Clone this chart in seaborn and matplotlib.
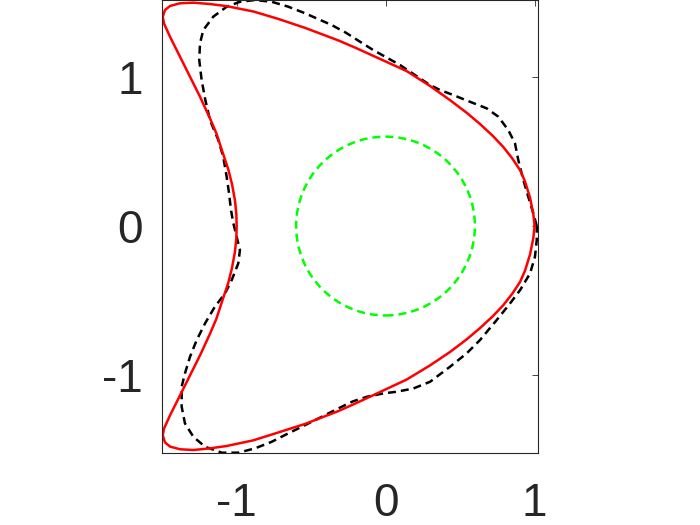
import numpy as np
import pandas as pd
import matplotlib
matplotlib.use('Agg')
import matplotlib.pyplot as plt
import seaborn as sns

# contorno verdadeiro (vermelho)
true_x = [1.001, 0.992, 0.970, 0.936, 0.903, 0.850, 0.791, 0.720, 0.634, 0.545,
          0.433, 0.299, 0.142, -0.082, -0.205, -0.317, -0.540, -0.719, -0.887, -1.066,
          -1.178, -1.290, -1.379, -1.446, -1.480, -1.495, -1.487, -1.446, -1.379, -1.312,
          -1.245, -1.178, -1.135, -1.095, -1.055, -1.030, -1.010, -1.001, -0.999, -1.001,
          -1.010, -1.030, -1.055, -1.095, -1.135, -1.178, -1.245, -1.312, -1.379, -1.446,
          -1.487, -1.495, -1.480, -1.446, -1.379, -1.290, -1.178, -1.066, -0.887, -0.719,
          -0.540, -0.317, -0.205, -0.082, 0.142, 0.299, 0.433, 0.545, 0.634, 0.720,
          0.791, 0.850, 0.903, 0.936, 0.970, 0.992]
true_y = [0.000, 0.080, 0.190, 0.300, 0.375, 0.455, 0.530, 0.605, 0.685, 0.760,
          0.845, 0.940, 1.040, 1.142, 1.198, 1.246, 1.330, 1.390, 1.440, 1.476,
          1.490, 1.499, 1.495, 1.477, 1.450, 1.405, 1.360, 1.270, 1.136, 1.002,
          0.868, 0.723, 0.622, 0.500, 0.380, 0.280, 0.170, 0.080, 0.000, -0.080,
          -0.170, -0.280, -0.380, -0.500, -0.622, -0.723, -0.868, -1.002, -1.136, -1.270,
          -1.360, -1.405, -1.452, -1.480, -1.498, -1.503, -1.492, -1.476, -1.438, -1.385,
          -1.328, -1.242, -1.192, -1.135, -1.030, -0.935, -0.845, -0.760, -0.685, -0.605,
          -0.530, -0.455, -0.375, -0.300, -0.190, -0.080]

# reconstrução (preto tracejado)
rec_x = [1.015, 0.992, 0.958, 0.925, 0.891, 0.869, 0.824, 0.757, 0.679, 0.567,
         0.455, 0.366, 0.299, 0.097, -0.082, -0.171, -0.265, -0.361, -0.540, -0.652,
         -0.764, -0.876, -0.977, -1.066, -1.156, -1.223, -1.245, -1.250, -1.234, -1.210,
         -1.178, -1.122, -1.089, -1.066, -1.050, -1.037, -1.021, -0.999, -0.977, -0.988,
         -1.032, -1.077, -1.145, -1.211, -1.267, -1.312, -1.346, -1.368, -1.368, -1.346,
         -1.290, -1.211, -1.099, -0.988, -0.876, -0.764, -0.652, -0.540, -0.428, -0.317,
         -0.220, -0.126, -0.015, 0.075, 0.187, 0.299, 0.433, 0.545, 0.634, 0.746,
         0.836, 0.903, 0.970, 1.003, 1.015]
rec_y = [0.000, 0.085, 0.197, 0.309, 0.443, 0.555, 0.644, 0.734, 0.790, 0.834,
         0.879, 0.913, 0.946, 1.081, 1.181, 1.237, 1.297, 1.349, 1.428, 1.472,
         1.505, 1.517, 1.505, 1.472, 1.405, 1.315, 1.226, 1.114, 0.980, 0.850,
         0.711, 0.577, 0.465, 0.331, 0.219, 0.107, 0.018, -0.072, -0.161, -0.250,
         -0.362, -0.452, -0.541, -0.653, -0.765, -0.877, -0.989, -1.078, -1.213, -1.324,
         -1.414, -1.481, -1.521, -1.521, -1.492, -1.448, -1.391, -1.336, -1.280, -1.224,
         -1.177, -1.146, -1.123, -1.112, -1.090, -1.045, -0.944, -0.854, -0.765, -0.631,
         -0.519, -0.430, -0.318, -0.206, -0.094]

circle_radius = 0.6
ticks = [-1, 0, 1]
tick_labels = ['-1', '0', '1']

df_true = pd.DataFrame({'x': true_x + true_x[:1], 'y': true_y + true_y[:1]})
df_rec = pd.DataFrame({'x': rec_x + rec_x[:1], 'y': rec_y + rec_y[:1]})

sns.set_style('white')
plt.rcParams['font.family'] = ['Liberation Sans', 'DejaVu Sans']
plt.rcParams['axes.unicode_minus'] = False

fig = plt.figure(figsize=(7, 5.25), dpi=100)
ax = fig.add_axes([162 / 700, 72 / 525, 375.5 / 700, 453 / 525])

sns.lineplot(data=df_rec, x='x', y='y', sort=False, estimator=None,
             color='black', linewidth=1.8, ax=ax)
ax.lines[-1].set_dashes((3.2, 2))
sns.lineplot(data=df_true, x='x', y='y', sort=False, estimator=None,
             color='red', linewidth=1.8, ax=ax)
ax.lines[-1].set_solid_joinstyle('round')

circ = plt.Circle((0, 0), circle_radius, fill=False, edgecolor=(0, 1, 0),
                  linewidth=1.8, linestyle=(0, (3.2, 2)))
ax.add_patch(circ)

ax.set_xlim(-1.50, 1.02)
ax.set_ylim(-1.523, 1.517)
ax.set_aspect('equal')
ax.set_xticks(ticks)
ax.set_xticklabels(tick_labels)
ax.set_yticks(ticks)
ax.set_yticklabels(tick_labels)
ax.set_xlabel('')
ax.set_ylabel('')

gray = '#262626'
for s in ax.spines.values():
    s.set_visible(True)
    s.set_color(gray)
    s.set_linewidth(0.8)
ax.tick_params(direction='in', length=4, width=0.6, colors=gray,
               top=True, right=True, labelsize=33)
ax.tick_params(axis='x', pad=21)
ax.tick_params(axis='y', pad=14)

fig.savefig('out.png', dpi=100)
